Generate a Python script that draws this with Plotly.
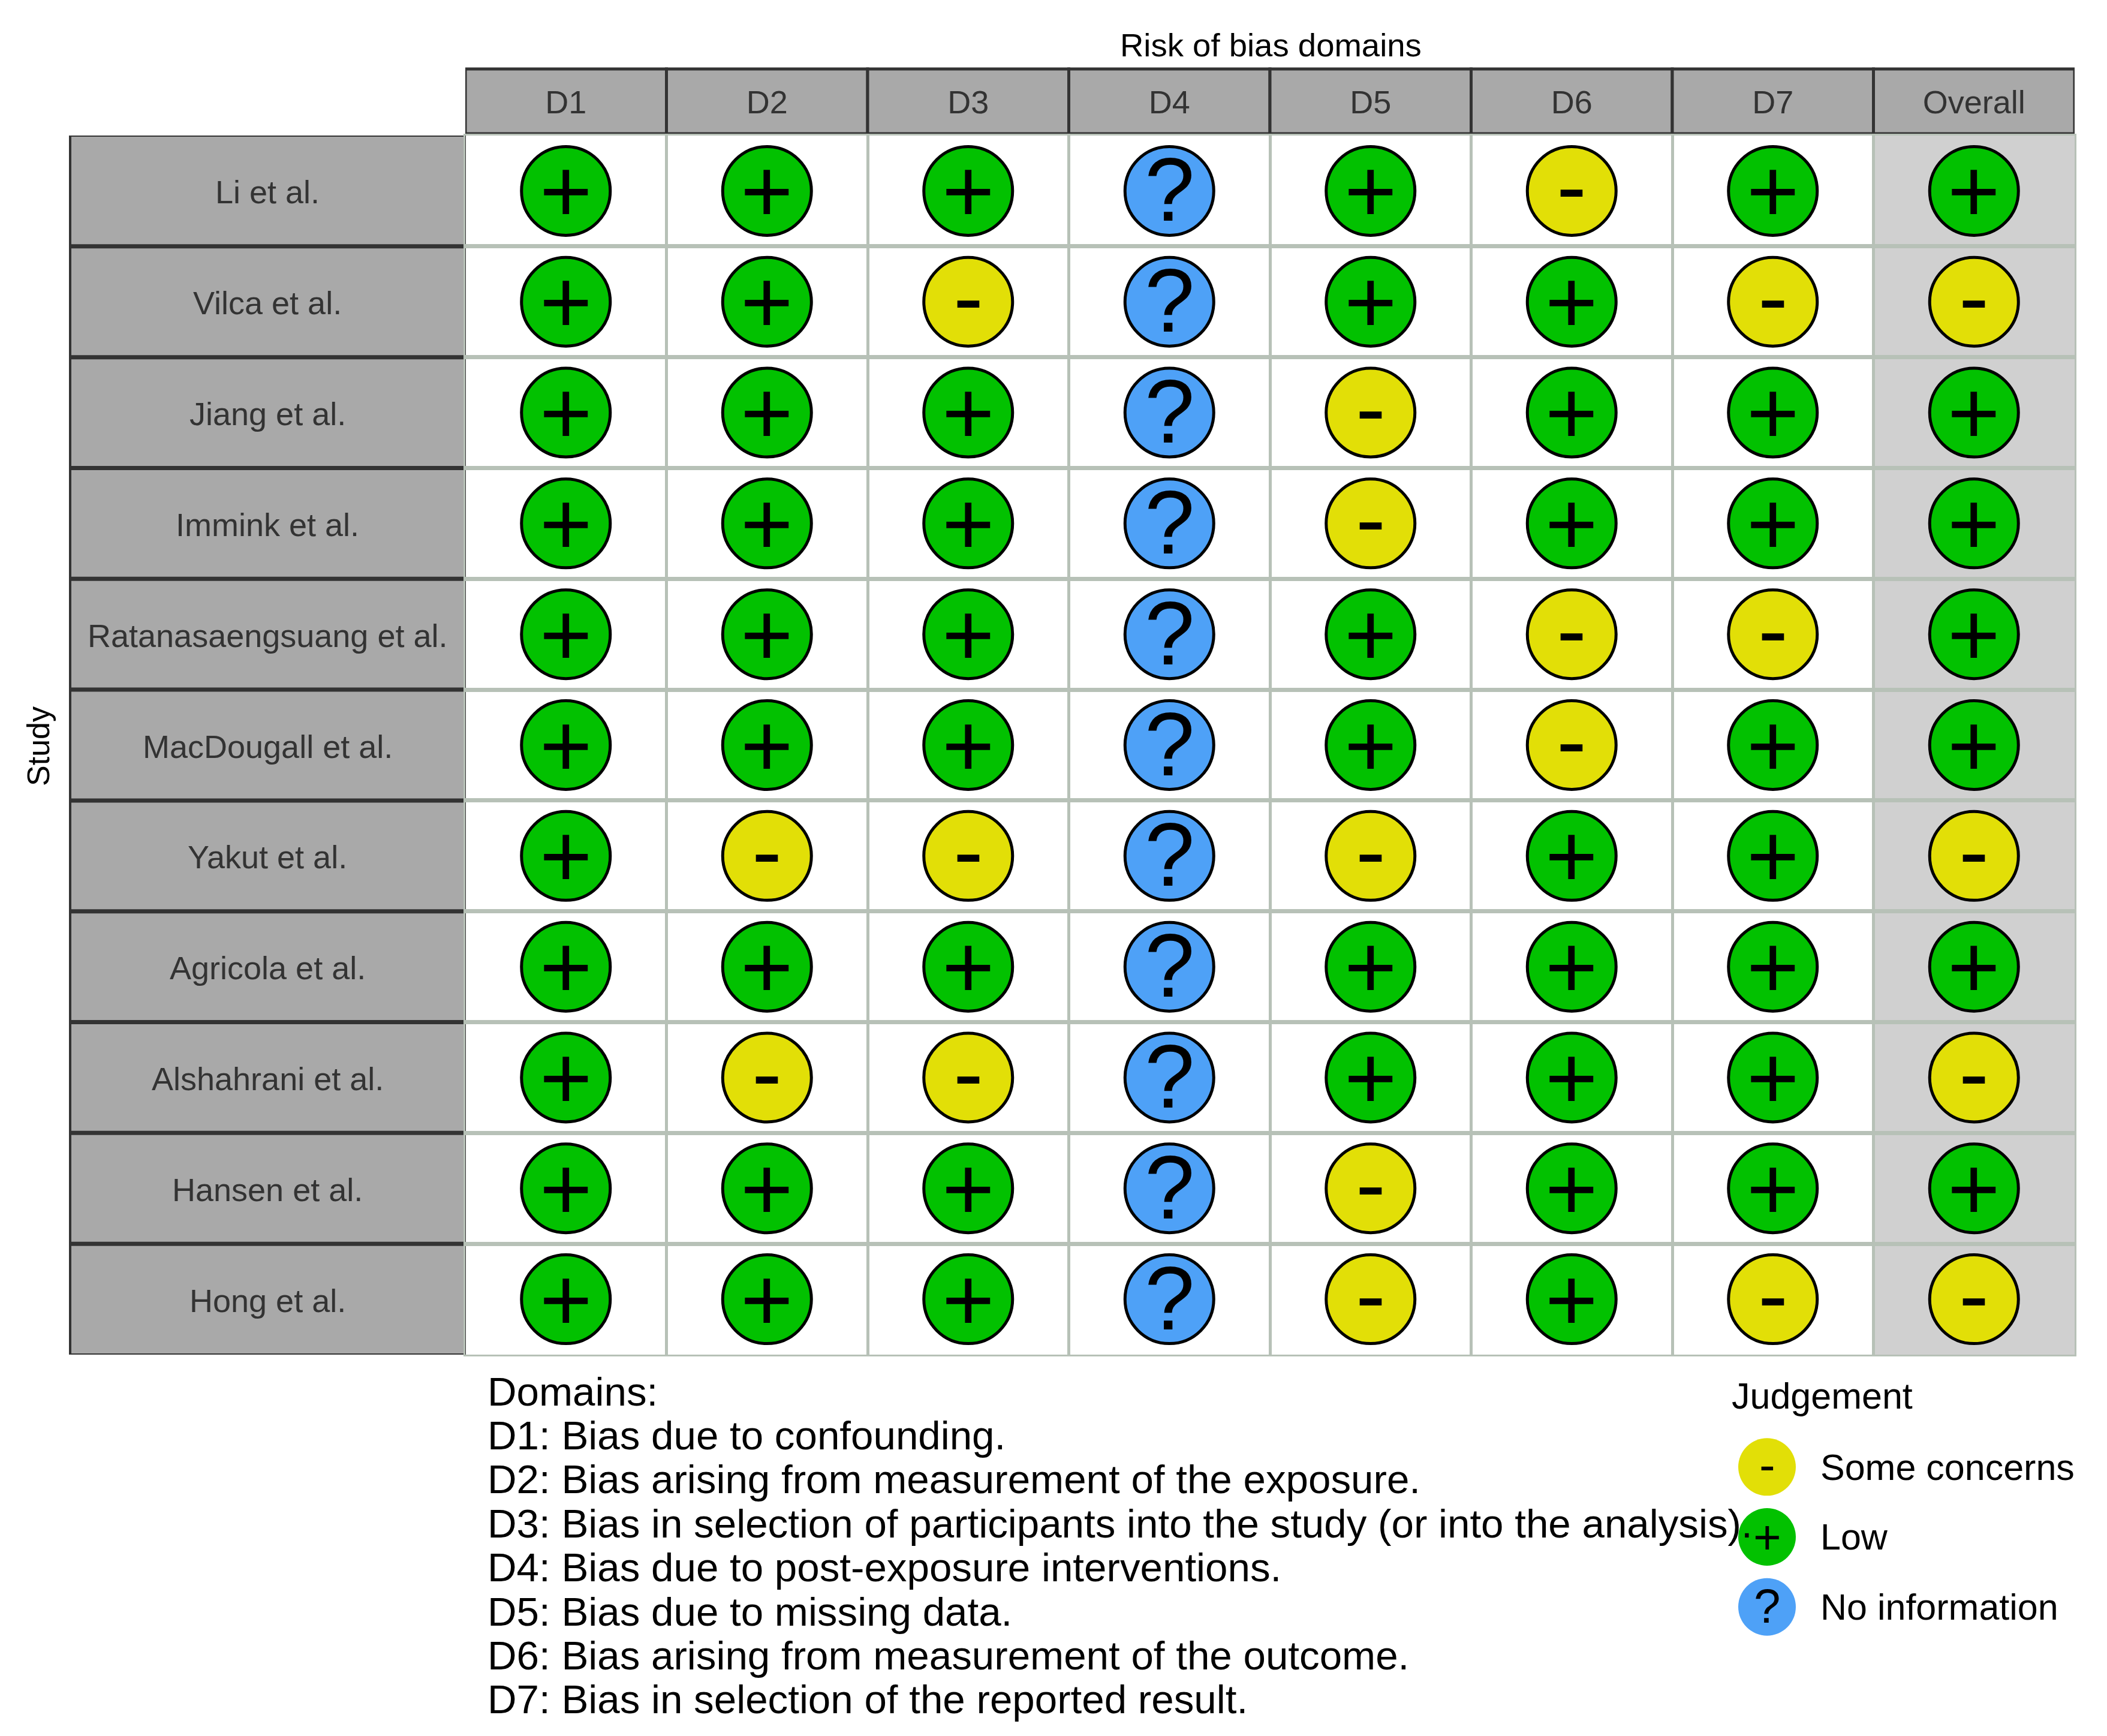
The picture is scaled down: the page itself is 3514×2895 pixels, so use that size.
# ============================================================
# Risk of bias traffic light plot (ROBINS-E style)
# ============================================================
import plotly.graph_objects as go

# =========================
# DATA
# =========================
STUDIES = [
    "Li et al.", "Vilca et al.", "Jiang et al.", "Immink et al.",
    "Ratanasaengsuang et al.", "MacDougall et al.", "Yakut et al.",
    "Agricola et al.", "Alshahrani et al.", "Hansen et al.", "Hong et al.",
]
DOMAINS = ["D1", "D2", "D3", "D4", "D5", "D6", "D7", "Overall"]

D1 = ["+", "+", "+", "+", "+", "+", "+", "+", "+", "+", "+"]
D2 = ["+", "+", "+", "+", "+", "+", "-", "+", "-", "+", "+"]
D3 = ["+", "-", "+", "+", "+", "+", "-", "+", "-", "+", "+"]
D4 = ["?", "?", "?", "?", "?", "?", "?", "?", "?", "?", "?"]
D5 = ["+", "+", "-", "-", "+", "+", "-", "+", "+", "-", "-"]
D6 = ["-", "+", "+", "+", "-", "-", "+", "+", "+", "+", "+"]
D7 = ["+", "-", "+", "+", "-", "+", "+", "+", "+", "+", "-"]
OVERALL = ["+", "-", "+", "+", "+", "+", "-", "+", "-", "+", "-"]
COLUMNS = [D1, D2, D3, D4, D5, D6, D7, OVERALL]

DOMAIN_NOTES = [
    "Domains:",
    "D1: Bias due to confounding.",
    "D2: Bias arising from measurement of the exposure.",
    "D3: Bias in selection of participants into the study (or into the analysis).",
    "D4: Bias due to post-exposure interventions.",
    "D5: Bias due to missing data.",
    "D6: Bias arising from measurement of the outcome.",
    "D7: Bias in selection of the reported result.",
]

LEGEND_LABELS = ["Some concerns", "Low", "No information"]
LEGEND_GLYPHS = ["-", "+", "?"]

# =========================
# STYLE
# =========================
# the page body adds an 8px margin, so the figure is 8px smaller and shifted
PAGE_OFFSET = 8
W, H = 3514 - PAGE_OFFSET, 2895 - PAGE_OFFSET
FONT = "Liberation Sans"
COLORS = {"+": "#02C100", "-": "#E2DF07", "?": "#4EA1F7"}
GLYPH_SHIFT = {"+": 0, "-": 8, "?": 2}
STRIP_FILL = "#A9A9A9"
STRIP_LINE = "#333333"
GRID = "#B7C1B7"
TEXT_GREY = "#333333"

PANEL_L, PANEL_R = 776, 3460
PANEL_T, PANEL_B = 226, 2259
STRIP_L, STRIP_R = 117, 775
HEAD_T, HEAD_B = 115, 223


def px_x(v):
    return (v - PAGE_OFFSET) / W


def px_y(v):
    return 1 - (v - PAGE_OFFSET) / H


fig = go.Figure()

# =========================
# TRAFFIC LIGHTS
# =========================
annotations = []
for glyph, color in COLORS.items():
    xs, ys = [], []
    for domain, col in zip(DOMAINS, COLUMNS):
        for study, value in zip(STUDIES, col):
            if value == glyph:
                xs.append(domain)
                ys.append(study)
                annotations.append(dict(
                    text=glyph, xref="x", yref="y", x=domain, y=study,
                    xanchor="center", yanchor="middle",
                    yshift=GLYPH_SHIFT[glyph], showarrow=False,
                    font=dict(family=FONT, size=150, color="black"),
                ))
    fig.add_trace(go.Scatter(
        x=xs,
        y=ys,
        mode="markers",
        marker=dict(
            size=148,
            color=color,
            line=dict(color="black", width=5),
        ),
        showlegend=False,
        hoverinfo="skip",
    ))

# =========================
# LEGEND (own small axes)
# =========================
fig.add_trace(go.Scatter(
    x=[0, 0, 0],
    y=LEGEND_LABELS,
    mode="markers",
    marker=dict(size=96, color=[COLORS[g] for g in LEGEND_GLYPHS]),
    xaxis="x2",
    yaxis="y2",
    showlegend=False,
    hoverinfo="skip",
))
for label, glyph in zip(LEGEND_LABELS, LEGEND_GLYPHS):
    annotations.append(dict(
        text=glyph, xref="x2", yref="y2", x=0, y=label,
        xanchor="center", yanchor="middle",
        yshift=GLYPH_SHIFT[glyph] / 2, showarrow=False,
        font=dict(family=FONT, size=80, color="black"),
    ))

# =========================
# STRIPS
# =========================
shapes = [dict(
    type="rect", xref="x", yref="y",
    x0=6.5, x1=7.5, y0=-0.5, y1=10.5,
    fillcolor="#D0D0D0", line_width=0, layer="below",
)]
for i in range(len(DOMAINS)):
    shapes.append(dict(
        type="rect", xref="x", yref="paper",
        x0=i - 0.5, x1=i + 0.5, y0=px_y(HEAD_B), y1=px_y(HEAD_T),
        fillcolor=STRIP_FILL, line=dict(color=STRIP_LINE, width=5),
        layer="below",
    ))
for i in range(len(STUDIES)):
    shapes.append(dict(
        type="rect", xref="paper", yref="y",
        x0=px_x(STRIP_L), x1=px_x(STRIP_R), y0=i - 0.5, y1=i + 0.5,
        fillcolor=STRIP_FILL, line=dict(color=STRIP_LINE, width=4),
        layer="below",
    ))
for i in range(len(STUDIES) - 1):
    shapes.append(dict(
        type="line", xref="paper", yref="y",
        x0=px_x(STRIP_L), x1=px_x(STRIP_R), y0=i + 0.5, y1=i + 0.5,
        line=dict(color=STRIP_LINE, width=7),
        layer="below",
    ))

# =========================
# TEXT
# =========================
for study in STUDIES:
    annotations.append(dict(
        text=study, xref="paper", yref="y",
        x=px_x((STRIP_L + STRIP_R) / 2), y=study,
        xanchor="center", yanchor="middle", yshift=-2, showarrow=False,
        font=dict(family=FONT, size=54, color=TEXT_GREY),
    ))

annotations.append(dict(
    text="Risk of bias domains", xref="paper", yref="paper",
    x=px_x(2119), y=px_y(76), xanchor="center", yanchor="middle",
    showarrow=False,
    font=dict(family=FONT, size=54.5, color="black"),
))
annotations.append(dict(
    text="Study", xref="paper", yref="paper",
    x=px_x(64), y=px_y(1245), textangle=-90,
    xanchor="center", yanchor="middle", showarrow=False,
    font=dict(family=FONT, size=52, color="black"),
))
annotations.append(dict(
    text="Judgement", xref="paper", yref="paper",
    x=px_x(2886), y=px_y(2328), xanchor="left", yanchor="middle",
    showarrow=False,
    font=dict(family=FONT, size=61, color="black"),
))
for k, line in enumerate(DOMAIN_NOTES):
    annotations.append(dict(
        text=line, xref="paper", yref="paper",
        x=px_x(811), y=px_y(2320 + k * 73.4), xanchor="left", yanchor="middle",
        showarrow=False,
        font=dict(family=FONT, size=67.3, color="black"),
    ))

# =========================
# LAYOUT
# =========================
fig.update_layout(
    width=W,
    height=H,
    margin=dict(l=0, r=0, t=0, b=0),
    paper_bgcolor="white",
    plot_bgcolor="white",
    shapes=shapes,
    annotations=annotations,
    xaxis=dict(
        domain=[px_x(PANEL_L), px_x(PANEL_R)],
        type="category",
        categoryorder="array",
        categoryarray=DOMAINS,
        range=[-0.5, 7.5],
        side="top",
        tickson="boundaries",
        ticks="",
        ticklabelstandoff=12,
        tickfont=dict(family=FONT, size=54, color=TEXT_GREY),
        showgrid=True,
        gridcolor=GRID,
        gridwidth=5,
        zeroline=False,
        showline=True,
        linecolor=GRID,
        linewidth=3,
        mirror=True,
    ),
    yaxis=dict(
        domain=[px_y(PANEL_B), px_y(PANEL_T)],
        type="category",
        categoryorder="array",
        categoryarray=STUDIES,
        range=[10.5, -0.5],
        tickson="boundaries",
        ticks="",
        showticklabels=False,
        showgrid=True,
        gridcolor=GRID,
        gridwidth=7,
        zeroline=False,
        showline=True,
        linecolor=GRID,
        linewidth=3,
        mirror=True,
    ),
    xaxis2=dict(
        domain=[px_x(2897), px_x(2997)],
        anchor="y2",
        range=[-1, 1],
        visible=False,
    ),
    yaxis2=dict(
        domain=[px_y(2738), px_y(2388)],
        anchor="x2",
        type="category",
        categoryorder="array",
        categoryarray=LEGEND_LABELS,
        range=[2.5, -0.5],
        side="right",
        ticks="",
        ticklabelstandoff=38,
        tickfont=dict(family=FONT, size=61, color="black"),
        showgrid=False,
        zeroline=False,
        showline=False,
    ),
)

fig.write_html("out.html")
